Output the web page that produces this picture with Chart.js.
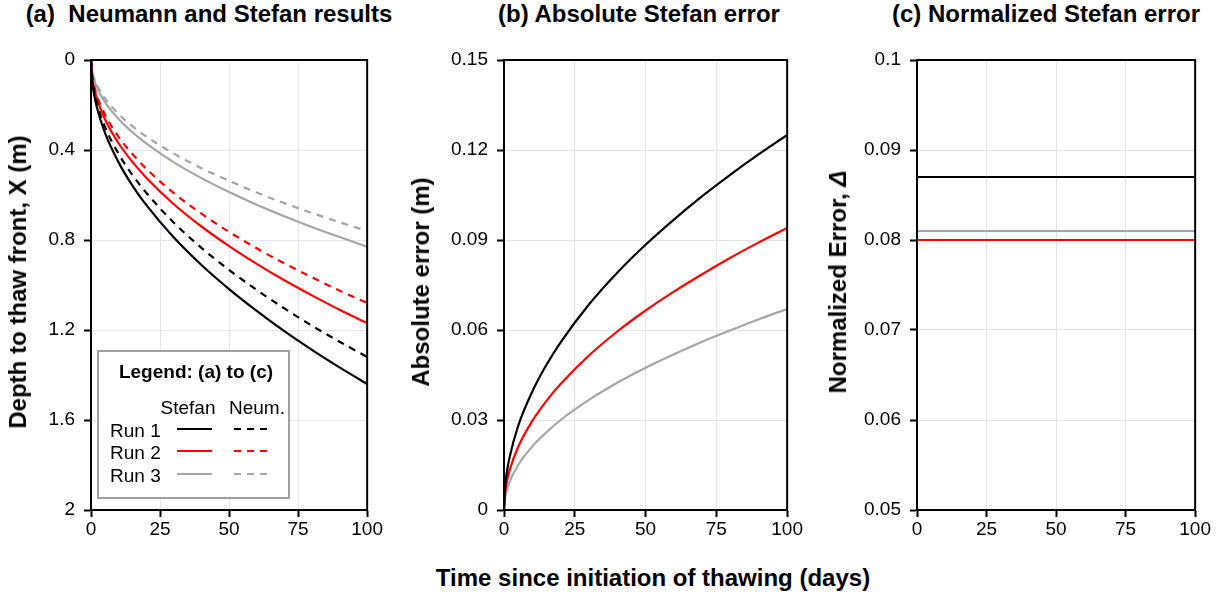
<!DOCTYPE html>
<html>
<head>
<meta charset="utf-8">
<script src="https://cdn.jsdelivr.net/npm/chart.js@4.4.1/dist/chart.umd.min.js"></script>
<style>
body { margin: 0; background: #fff; width: 1223px; height: 599px; position: relative; overflow: hidden; font-family: "Liberation Sans", Arial, sans-serif; color: #000; }
.panel { position: absolute; top: 0; height: 545px; }
.ttl { position: absolute; font-weight: bold; font-size: 24px; line-height: 28px; white-space: nowrap; transform: translateX(-50%); }
.ytl { position: absolute; font-weight: bold; font-size: 24px; line-height: 28px; white-space: nowrap; transform: translate(-50%, -50%) rotate(-90deg); }
</style>
</head>
<body>
<div class="ttl" style="left:209px; top:0px">(a)&nbsp; Neumann and Stefan results</div>
<div class="ttl" style="left:639px; top:0px">(b) Absolute Stefan error</div>
<div class="ttl" style="left:1046px; top:0px">(c) Normalized Stefan error</div>

<div class="panel" style="left:0px; width:384px"><canvas id="chartA"></canvas></div>
<div class="panel" style="left:400px; width:404px"><canvas id="chartB"></canvas></div>
<div class="panel" style="left:810px; width:402px"><canvas id="chartC"></canvas></div>

<div class="ytl" style="left:18px; top:282px">Depth to thaw front, X (m)</div>
<div class="ytl" style="left:421px; top:282px">Absolute error (m)</div>
<div class="ytl" style="left:838px; top:282px">Normalized Error, <i>Δ</i></div>
<div class="ttl" style="left:653px; top:564px">Time since initiation of thawing (days)</div>

<script>
// time axis (days)
const days = [0, 0.5, 1, 2, 5, 10, 15, 20, 30, 40, 50, 60, 70, 80, 90, 100];
const xTicks = [0, 25, 50, 75, 100];
const xLabels = ['0', '25', '50', '75', '100'];

// (a) depth to thaw front, m
const stefan1 = [0, 0.102, 0.144, 0.204, 0.322, 0.455, 0.558, 0.644, 0.789, 0.911, 1.018, 1.115, 1.205, 1.288, 1.366, 1.44];
const neum1   = [0, 0.093, 0.132, 0.187, 0.295, 0.417, 0.511, 0.590, 0.723, 0.835, 0.933, 1.022, 1.104, 1.181, 1.252, 1.32];
const stefan2 = [0, 0.083, 0.117, 0.165, 0.262, 0.370, 0.453, 0.523, 0.641, 0.740, 0.827, 0.906, 0.979, 1.046, 1.110, 1.17];
const neum2   = [0, 0.076, 0.108, 0.153, 0.241, 0.342, 0.418, 0.483, 0.592, 0.683, 0.764, 0.837, 0.904, 0.966, 1.025, 1.08];
const stefan3 = [0, 0.059, 0.083, 0.117, 0.186, 0.262, 0.321, 0.371, 0.455, 0.525, 0.587, 0.643, 0.694, 0.742, 0.787, 0.83];
const neum3   = [0, 0.054, 0.076, 0.107, 0.170, 0.240, 0.294, 0.340, 0.416, 0.481, 0.537, 0.589, 0.636, 0.680, 0.721, 0.76];
const yTicksA = [0, 0.4, 0.8, 1.2, 1.6, 2];
const yLabelsA = ['0', '0.4', '0.8', '1.2', '1.6', '2'];

// (b) absolute Stefan error, m
const err1 = [0, 0.0088, 0.0125, 0.0177, 0.0280, 0.0395, 0.0484, 0.0559, 0.0685, 0.0791, 0.0884, 0.0968, 0.1046, 0.1118, 0.1186, 0.125];
const err2 = [0, 0.0066, 0.0094, 0.0133, 0.0210, 0.0297, 0.0364, 0.0420, 0.0515, 0.0595, 0.0665, 0.0728, 0.0786, 0.0841, 0.0892, 0.094];
const err3 = [0, 0.0047, 0.0067, 0.0095, 0.0150, 0.0212, 0.0259, 0.0300, 0.0367, 0.0424, 0.0474, 0.0519, 0.0561, 0.0599, 0.0636, 0.067];
const yTicksB = [0, 0.03, 0.06, 0.09, 0.12, 0.15];
const yLabelsB = ['0', '0.03', '0.06', '0.09', '0.12', '0.15'];

// (c) normalized Stefan error
const normDays = [0, 100];
const norm1 = [0.087, 0.087];
const norm2 = [0.080, 0.080];
const norm3 = [0.081, 0.081];
const yTicksC = [0.05, 0.06, 0.07, 0.08, 0.09, 0.1];
const yLabelsC = ['0.05', '0.06', '0.07', '0.08', '0.09', '0.1'];

const runNames = ['Run 1', 'Run 2', 'Run 3'];
const runColors = ['#000000', '#ff0000', '#a6a6a6'];
const dash = [7, 6];
const tickFont = { family: 'Liberation Sans', size: 19 };

function pts(xs, ys) {
    return xs.map((x, i) => ({ x: x, y: ys[i] }));
}

function line(xs, ys, color, dashed) {
    return {
        data: pts(xs, ys),
        borderColor: color,
        borderWidth: 2.2,
        borderDash: dashed ? dash : [],
        pointRadius: 0,
        cubicInterpolationMode: 'monotone',
        fill: false
    };
}

// black frame around the plot area
const framePlugin = {
    id: 'frame',
    afterDraw(chart) {
        const a = chart.chartArea;
        const ctx = chart.ctx;
        ctx.save();
        ctx.strokeStyle = '#000';
        ctx.lineWidth = 2;
        ctx.strokeRect(a.left, a.top, a.right - a.left, a.bottom - a.top);
        ctx.restore();
    }
};

// legend box inside panel (a)
const legendPlugin = {
    id: 'boxLegend',
    afterDraw(chart) {
        const ctx = chart.ctx;
        const ds = chart.data.datasets;
        ctx.save();
        ctx.fillStyle = '#fff';
        ctx.fillRect(98, 351, 191, 147);
        ctx.strokeStyle = '#a0a0a0';
        ctx.lineWidth = 2;
        ctx.strokeRect(98, 351, 191, 147);
        ctx.fillStyle = '#000';
        ctx.textBaseline = 'middle';
        ctx.textAlign = 'center';
        ctx.font = 'bold 19px "Liberation Sans"';
        ctx.fillText('Legend: (a) to (c)', 196, 373);
        ctx.font = '19px "Liberation Sans"';
        ctx.fillText('Stefan', 188, 409);
        ctx.fillText('Neum.', 257, 409);
        const rows = [431, 453, 476];
        ctx.textAlign = 'left';
        for (let i = 0; i < 3; i++) {
            const y = rows[i];
            ctx.fillStyle = '#000';
            ctx.fillText(runNames[i], 110, y + 1);
            const s = ds[i * 2], n = ds[i * 2 + 1];
            ctx.lineWidth = 2;
            ctx.strokeStyle = s.borderColor;
            ctx.setLineDash([]);
            ctx.beginPath(); ctx.moveTo(177, y - 2); ctx.lineTo(212, y - 2); ctx.stroke();
            ctx.strokeStyle = n.borderColor;
            ctx.setLineDash(n.borderDash);
            ctx.beginPath(); ctx.moveTo(234, y - 2); ctx.lineTo(268, y - 2); ctx.stroke();
        }
        ctx.restore();
    }
};

function makeChart(id, datasets, yOpt, yWidth, gridColor, extra) {
    return new Chart(document.getElementById(id), {
        type: 'line',
        data: { datasets: datasets },
        options: {
            animation: false,
            responsive: true,
            maintainAspectRatio: false,
            layout: { padding: { top: 60, right: 16, bottom: 0, left: 0 } },
            plugins: { legend: { display: false }, tooltip: { enabled: false } },
            scales: {
                x: {
                    type: 'linear', min: 0, max: 100,
                    afterBuildTicks: s => { s.ticks = xTicks.map(v => ({ value: v })); },
                    afterFit: s => { s.height = 35; },
                    ticks: { font: tickFont, color: '#000', padding: 1, maxRotation: 0,
                        callback: (v, i) => xLabels[i] },
                    grid: { color: gridColor, lineWidth: 1, tickColor: '#000', tickLength: 7, tickWidth: 2 },
                    border: { color: '#000', width: 2 }
                },
                y: {
                    type: 'linear', min: yOpt.min, max: yOpt.max, reverse: !!yOpt.reverse,
                    afterBuildTicks: s => { s.ticks = yOpt.ticks.map(v => ({ value: v })); },
                    afterFit: s => { s.width = yWidth; },
                    ticks: { font: tickFont, color: '#000', padding: 9,
                        callback: (v, i) => yOpt.labels[i] },
                    grid: { color: gridColor, lineWidth: 1, tickColor: '#000', tickLength: 7, tickWidth: 2 },
                    border: { color: '#000', width: 2 }
                }
            }
        },
        plugins: [framePlugin].concat(extra || [])
    });
}

makeChart('chartA', [
    line(days, stefan1, runColors[0], false),
    line(days, neum1, runColors[0], true),
    line(days, stefan2, runColors[1], false),
    line(days, neum2, runColors[1], true),
    line(days, stefan3, runColors[2], false),
    line(days, neum3, runColors[2], true)
], { min: 0, max: 2, reverse: true, ticks: yTicksA, labels: yLabelsA }, 91, '#e6e6f2', [legendPlugin]);

makeChart('chartB', [
    line(days, err1, runColors[0], false),
    line(days, err2, runColors[1], false),
    line(days, err3, runColors[2], false)
], { min: 0, max: 0.15, ticks: yTicksB, labels: yLabelsB }, 104, '#e3e3e3');

makeChart('chartC', [
    line(normDays, norm1, runColors[0], false),
    line(normDays, norm2, runColors[1], false),
    line(normDays, norm3, runColors[2], false)
], { min: 0.05, max: 0.1, ticks: yTicksC, labels: yLabelsC }, 107, '#e3e3e3');
</script>
</body>
</html>
